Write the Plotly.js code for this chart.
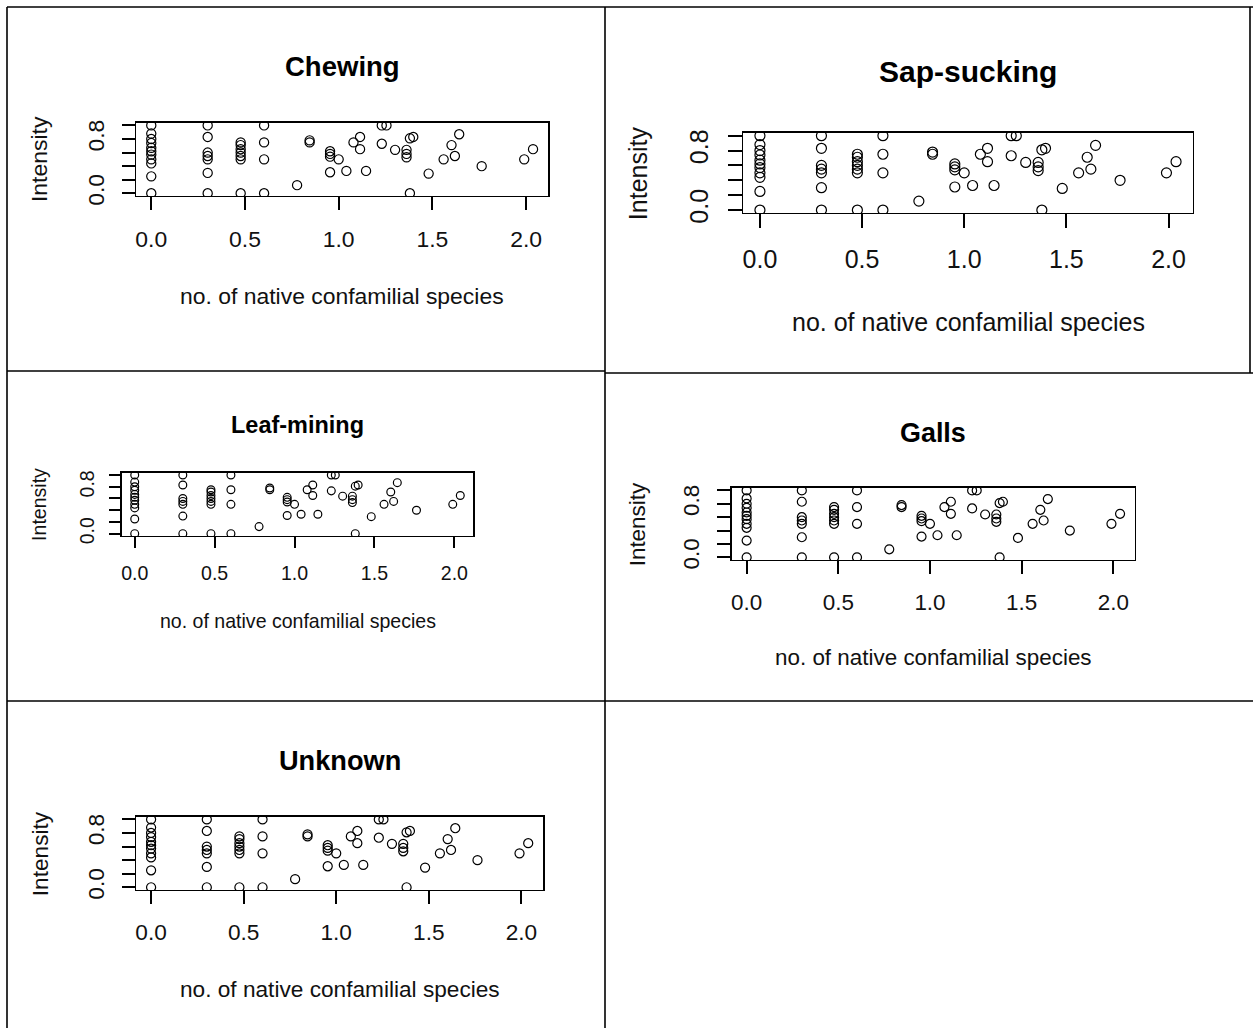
<!DOCTYPE html>
<html>
<head>
<meta charset="utf-8">
<script src="https://cdn.plot.ly/plotly-3.0.1.min.js"></script>
<style>
  html, body { margin: 0; padding: 0; background: #ffffff; }
  #chart { width: 1253px; height: 1028px; }
</style>
</head>
<body>
<div id="chart"></div>
<script>
// Feeding-guild panels: intensity vs. log10 number of native confamilial species
const panelTitles = ['Chewing', 'Sap-sucking', 'Leaf-mining', 'Galls', 'Unknown'];

// log10(no. of native confamilial species + 1)
const nativeConfamilial = [
  0, 0, 0, 0, 0, 0, 0, 0, 0, 0, 0,
  0.301, 0.301, 0.301, 0.301, 0.301, 0.301, 0.301,
  0.477, 0.477, 0.477, 0.477, 0.477, 0.477, 0.477,
  0.602, 0.602, 0.602, 0.602,
  0.778,
  0.845, 0.845,
  0.954, 0.954, 0.954, 0.954,
  1.0,
  1.041,
  1.079,
  1.114, 1.114,
  1.146,
  1.23, 1.255,
  1.23,
  1.301,
  1.362, 1.362, 1.362,
  1.38, 1.38,
  1.398,
  1.48,
  1.56,
  1.602,
  1.62,
  1.643,
  1.763,
  1.99,
  2.037
];

const intensity = [
  1.0, 0.88, 0.8, 0.74, 0.67, 0.62, 0.57, 0.5, 0.44, 0.25, 0,
  1.0, 0.83, 0.6, 0.55, 0.5, 0.3, 0,
  0.75, 0.71, 0.65, 0.6, 0.55, 0.5, 0,
  1.0, 0.75, 0.5, 0,
  0.12,
  0.78, 0.75,
  0.62, 0.58, 0.54, 0.31,
  0.5,
  0.33,
  0.75,
  0.83, 0.65,
  0.33,
  1.0, 1.0,
  0.73,
  0.64,
  0.64, 0.58, 0.53,
  0.81, 0,
  0.83,
  0.29,
  0.5,
  0.71,
  0.55,
  0.87,
  0.4,
  0.5,
  0.65
];

const xTickVals = [0, 0.5, 1, 1.5, 2];
const xTickText = ['0.0', '0.5', '1.0', '1.5', '2.0'];
const yTickVals = [0, 0.2, 0.4, 0.6, 0.8, 1.0];
const yTickText = ['0.0', '', '', '', '0.8', ''];

// Plot-box placement of each panel on the page: [left, top, right, bottom] in px
const panelBoxes = [
  [136, 122.7, 548.3, 196],
  [743.3, 132.7, 1192.7, 213],
  [121.7, 472.7, 473.3, 536],
  [731.7, 487.7, 1135, 560],
  [136, 816.7, 543.3, 890]
];

const W = 1253, H = 1028;
const fx = px => px / W;
const fy = py => 1 - py / H;
const FONT = '"Liberation Sans", Arial, Helvetica, sans-serif';

// base-graphics style ranges: data extent padded by 4 %
function padded(vals) {
  const lo = Math.min(...vals), hi = Math.max(...vals);
  const d = (hi - lo) * 0.04;
  return [lo - d, hi + d];
}
const xRange = padded(nativeConfamilial);
const yRange = padded(intensity);

const data = [];
const layout = {
  width: W, height: H,
  margin: { l: 0, r: 0, t: 0, b: 0 },
  paper_bgcolor: '#ffffff',
  plot_bgcolor: '#ffffff',
  showlegend: false,
  font: { family: FONT, color: '#000000' },
  annotations: [],
  shapes: []
};

panelTitles.forEach((title, i) => {
  const [l, t, r, b] = panelBoxes[i];
  const s = (r - l) / 449.4;           // text / symbol scale of this panel
  const n = i + 1;
  const xa = 'xaxis' + (n === 1 ? '' : n);
  const ya = 'yaxis' + (n === 1 ? '' : n);

  data.push({
    type: 'scatter',
    mode: 'markers',
    x: nativeConfamilial,
    y: intensity,
    xaxis: 'x' + (n === 1 ? '' : n),
    yaxis: 'y' + (n === 1 ? '' : n),
    marker: {
      symbol: 'circle-open',
      size: 10 * s,
      color: '#000000',
      line: { width: 1.2, color: '#000000' }
    },
    hoverinfo: 'skip'
  });

  const common = {
    showgrid: false, zeroline: false,
    showline: true, mirror: true, linecolor: '#000000', linewidth: 1.3,
    ticks: 'outside', tickcolor: '#000000', tickwidth: 2,
    ticklen: Math.round(14 * s),
    tickfont: { family: FONT, size: 25 * s, color: '#111111' },
    tickmode: 'array',
    fixedrange: true
  };

  layout[xa] = Object.assign({}, common, {
    domain: [fx(l), fx(r)],
    anchor: 'y' + (n === 1 ? '' : n),
    range: xRange,
    tickvals: xTickVals,
    ticktext: xTickText,
    ticklabelstandoff: Math.round(10 * s)
  });
  layout[ya] = Object.assign({}, common, {
    domain: [fy(b), fy(t)],
    anchor: 'x' + (n === 1 ? '' : n),
    range: yRange,
    tickvals: yTickVals,
    ticktext: yTickText,
    tickangle: -90,
    ticklabelstandoff: Math.round(10 * s)
  });

  // panel title
  layout.annotations.push({
    xref: 'paper', yref: 'paper',
    x: fx((l + r) / 2), y: fy(t - 61.5 * s),
    xanchor: 'center', yanchor: 'middle',
    text: '<b>' + title + '</b>', showarrow: false,
    font: { family: FONT, size: 30 * s, color: '#000000' }
  });
  // x-axis title
  layout.annotations.push({
    xref: 'paper', yref: 'paper',
    x: fx((l + r) / 2), y: fy(b + 109 * s),
    xanchor: 'center', yanchor: 'middle',
    text: 'no. of native confamilial species', showarrow: false,
    font: { family: FONT, size: 25 * s, color: '#111111' }
  });
  // y-axis title
  layout.annotations.push({
    xref: 'paper', yref: 'paper',
    x: fx(l - 105 * s), y: fy((t + b) / 2),
    xanchor: 'center', yanchor: 'middle',
    textangle: -90,
    text: 'Intensity', showarrow: false,
    font: { family: FONT, size: 25 * s, color: '#111111' }
  });
});

// table rules around the five panels
const rules = [
  [7, 7, 1253, 7],
  [7, 7, 7, 1028],
  [605, 7, 605, 1028],
  [1250, 7, 1250, 373],
  [7, 371, 605, 371],
  [605, 373, 1253, 373],
  [7, 701, 605, 701],
  [605, 701, 1253, 701]
];
rules.forEach(([x0, y0, x1, y1]) => {
  layout.shapes.push({
    type: 'line', xref: 'paper', yref: 'paper',
    x0: fx(x0), y0: fy(y0), x1: fx(x1), y1: fy(y1),
    line: { color: '#000000', width: 1.6 }
  });
});

Plotly.newPlot('chart', data, layout, { displayModeBar: false, staticPlot: true });
</script>
</body>
</html>
